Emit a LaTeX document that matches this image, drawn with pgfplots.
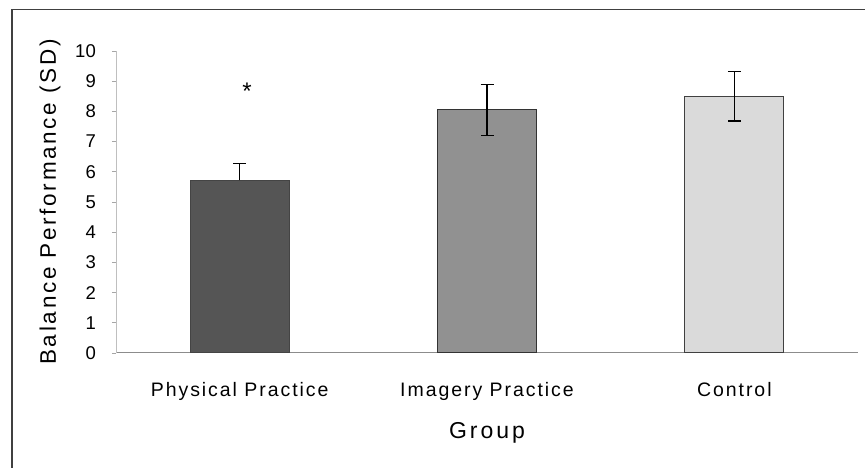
\documentclass[border=0pt]{standalone}
\usepackage{fontspec}
\setmainfont{Liberation Sans}
\usepackage{pgfplots}
\pgfplotsset{compat=1.18}
\definecolor{physc}{RGB}{85,85,85}
\definecolor{imagc}{RGB}{145,145,145}
\definecolor{contc}{RGB}{218,218,218}
\begin{document}
\begin{tikzpicture}
\path[use as bounding box] (0,0) rectangle (865pt,468pt);
\draw[line width=1.4pt, black!75] (12pt,0pt) -- (12pt,458.7pt) -- (865pt,458.7pt);
\begin{axis}[
  at={(116pt,115pt)}, anchor=south west,
  scale only axis, width=742pt, height=302pt,
  xmin=-0.5, xmax=2.5, ymin=0, ymax=10,
  axis lines*=left,
  /pgf/number format/assume math mode=true,
  x axis line style={black!45, line width=1pt},
  y axis line style={black!25, line width=1pt},
  ytick={0,1,...,10},
  xtick={0,1,2},
  xticklabels={Physical Practice, Imagery Practice, Control},
  x tick style={draw=none},
  extra x ticks={0.5,1.5},
  extra x tick labels={},
  extra x tick style={major tick length=7pt, tick style={black!35, line width=0.8pt}},
  y tick style={black!35, line width=0.8pt},
  major tick length=4pt,
  tick align=outside,
  ytick pos=left,
  yticklabel style={anchor=east, inner sep=0pt, xshift=-16pt, font=\fontsize{18.5}{18.5}\selectfont},
  xticklabel style={anchor=base, inner sep=0pt, yshift=-40pt, font=\fontsize{19.5}{19.5}\selectfont\addfontfeatures{LetterSpace=10}},
  xlabel={Group},
  xlabel style={at={(axis description cs:0.5,0)}, anchor=base, yshift=-86pt, inner sep=0pt, font=\fontsize{23}{23}\selectfont\addfontfeatures{LetterSpace=13}},
  ylabel={Balance Performance (SD)},
  ylabel style={at={(axis description cs:-0.089,0.5)}, anchor=center, rotate=0, inner sep=0pt, font=\fontsize{22.5}{22.5}\selectfont\addfontfeatures{LetterSpace=12}},
  ybar, bar width=0.4, bar shift=0pt,
  clip=false,
]
\addplot[fill=physc, draw=physc!80!black, line width=1pt,
  error bars/.cd, y dir=plus, y explicit,
  error bar style={black, line width=1.2pt},
  error mark options={rotate=90, mark size=6.5pt, line width=1.2pt, black}]
  coordinates {(0,5.72) +- (0,0.56)};
\addplot[fill=imagc, draw=black!80, line width=1pt,
  error bars/.cd, y dir=both, y explicit,
  error bar style={black, line width=1.2pt},
  error mark options={rotate=90, mark size=6.5pt, line width=1.2pt, black}]
  coordinates {(1,8.05) +- (0,0.85)};
\addplot[fill=contc, draw=black!75, line width=1pt,
  error bars/.cd, y dir=both, y explicit,
  error bar style={black, line width=1.2pt},
  error mark options={rotate=90, mark size=6.5pt, line width=1.2pt, black}]
  coordinates {(2,8.5) +- (0,0.82)};
\node[anchor=base, inner sep=0pt, font=\fontsize{24}{24}\selectfont] at (axis cs:0.03,8.41) {*};
\end{axis}
\end{tikzpicture}
\end{document}
